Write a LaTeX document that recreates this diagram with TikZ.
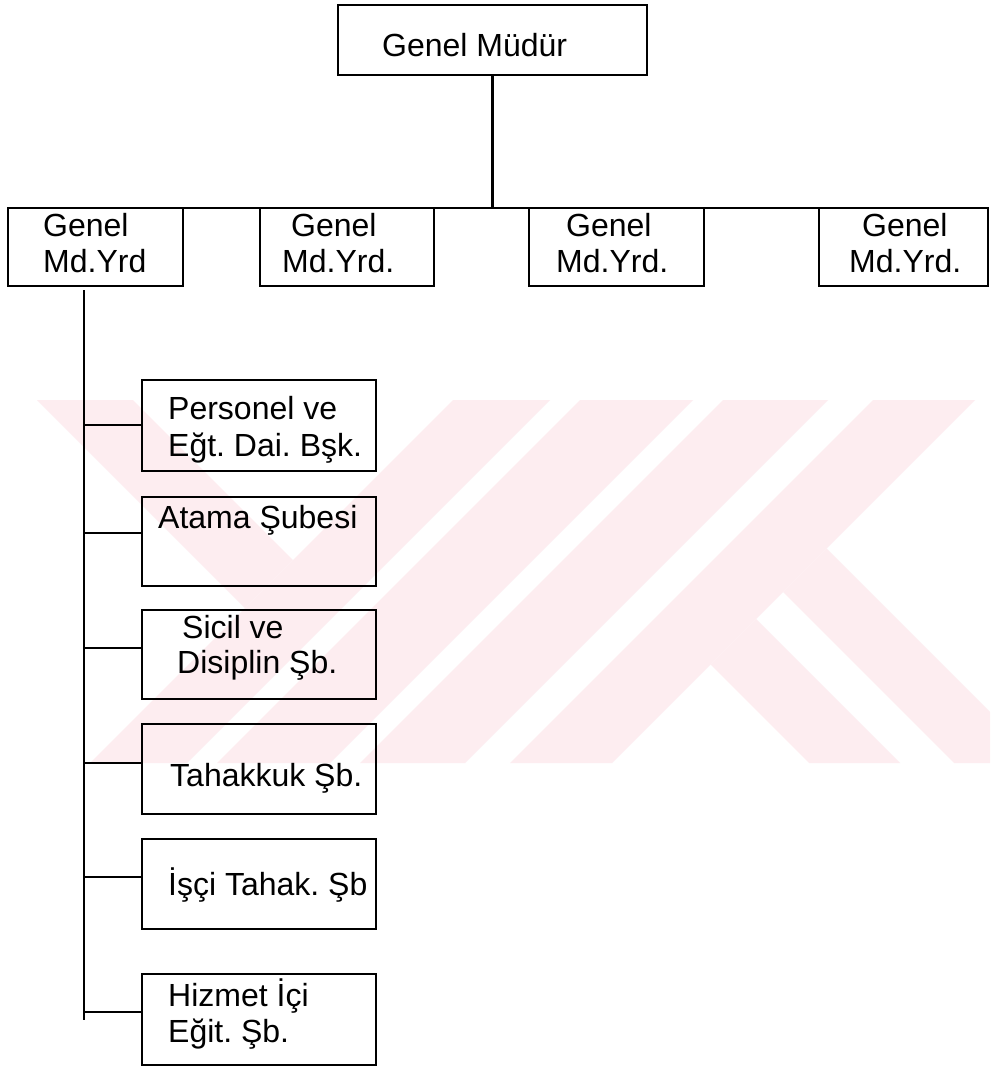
\documentclass[tikz,border=0pt]{standalone}
\usepackage{fontspec}
\setmainfont{Liberation Sans}
\frenchspacing
\begin{document}
\begin{tikzpicture}[x=1pt,y=-1pt,
  box/.style={draw=black, line width=2.8pt, rectangle, inner sep=0pt, outer sep=0pt},
  lbl/.style={anchor=base west, inner sep=0pt, font=\fontsize{32}{38}\selectfont},
  wire/.style={draw=black, line width=2.6pt},
  wm/.style={fill=wmpink, draw=none}]
\definecolor{wmpink}{RGB}{253,237,240}
\useasboundingbox (0,0) rectangle (990,1067);
\fill[white] (0,0) rectangle (990,1067);
% watermark
\begin{scope}
\clip (0,400) rectangle (990,763);
\path[wm] (37,400) -- (133,400) -- (293,560) -- (245,608) -- cycle;
\path[wm] (453,400) -- (550,400) -- (187,763) -- (90,763) -- cycle;
\path[wm] (580,400) -- (693,400) -- (330,763) -- (217,763) -- cycle;
\path[wm] (723,400) -- (828,400) -- (465,763) -- (360,763) -- cycle;
\path[wm] (873,400) -- (975,400) -- (612,763) -- (510,763) -- cycle;
\path[wm] (826.5,548.5) -- (1041,763) -- (954,763) -- (783,592) -- cycle;
\path[wm] (756,619) -- (900,763) -- (809,763) -- (710.5,664.5) -- cycle;
\end{scope}
% boxes
\node[box, minimum width=309pt, minimum height=70pt] (top) at (492.5,40) {};
\node[box, minimum width=175pt, minimum height=78pt] (A) at (95.5,247) {};
\node[box, minimum width=174pt, minimum height=78pt] (B) at (347,247) {};
\node[box, minimum width=175pt, minimum height=78pt] (C) at (616.5,247) {};
\node[box, minimum width=169pt, minimum height=78pt] (D) at (903.5,247) {};
\node[box, minimum width=234pt, minimum height=91pt] (b1) at (259,425.5) {};
\node[box, minimum width=234pt, minimum height=89pt] (b2) at (259,541.5) {};
\node[box, minimum width=234pt, minimum height=89pt] (b3) at (259,654.5) {};
\node[box, minimum width=234pt, minimum height=90pt] (b4) at (259,769) {};
\node[box, minimum width=234pt, minimum height=90pt] (b5) at (259,884) {};
\node[box, minimum width=234pt, minimum height=91pt] (b6) at (259,1019.5) {};
% texts
\node[lbl] (ttop) at (382,56.7) {Genel Müdür};
\node[lbl] (tA1) at (43,236.7) {Genel};
\node[lbl] (tA2) at (43,272.7) {Md.Yrd};
\node[lbl] (tB1) at (291,236.7) {Genel};
\node[lbl] (tB2) at (282,272.7) {Md.Yrd.};
\node[lbl] (tC1) at (566,236.7) {Genel};
\node[lbl] (tC2) at (556,272.7) {Md.Yrd.};
\node[lbl] (tD1) at (862,236.7) {Genel};
\node[lbl] (tD2) at (849,272.7) {Md.Yrd.};
\node[lbl] (t11) at (168,419.3) {Personel ve};
\node[lbl] (t12) at (168,456) {Eğt. Dai. Bşk.};
\node[lbl] (t2) at (158,528.3) {Atama Şubesi};
\node[lbl] (t31) at (182,638.3) {Sicil ve};
\node[lbl] (t32) at (177,673.3) {Disiplin Şb.};
\node[lbl] (t4) at (170,786) {Tahakkuk Şb.};
\node[lbl] (t5) at (168,895) {İşçi Tahak. Şb};
\node[lbl] (t61) at (168,1006.7) {Hizmet İçi};
\node[lbl] (t62) at (168,1042.7) {Eğit. Şb.};
% connectors
\draw[wire] (top.south) -- (top.south |- A.north);
\draw[wire] (A.north west) -- (D.north east);
\coordinate (tk) at (84,290);
\coordinate (tkend) at (84,1020);
\draw[wire] (tk) -- (tkend);
\coordinate (j1) at (84,425);
\coordinate (j2) at (84,533);
\coordinate (j3) at (84,648);
\coordinate (j4) at (84,763);
\coordinate (j5) at (84,877);
\coordinate (j6) at (84,1012);
\draw[wire] (j1) -- (j1 -| b1.west);
\draw[wire] (j2) -- (j2 -| b2.west);
\draw[wire] (j3) -- (j3 -| b3.west);
\draw[wire] (j4) -- (j4 -| b4.west);
\draw[wire] (j5) -- (j5 -| b5.west);
\draw[wire] (j6) -- (j6 -| b6.west);
\end{tikzpicture}
\end{document}
